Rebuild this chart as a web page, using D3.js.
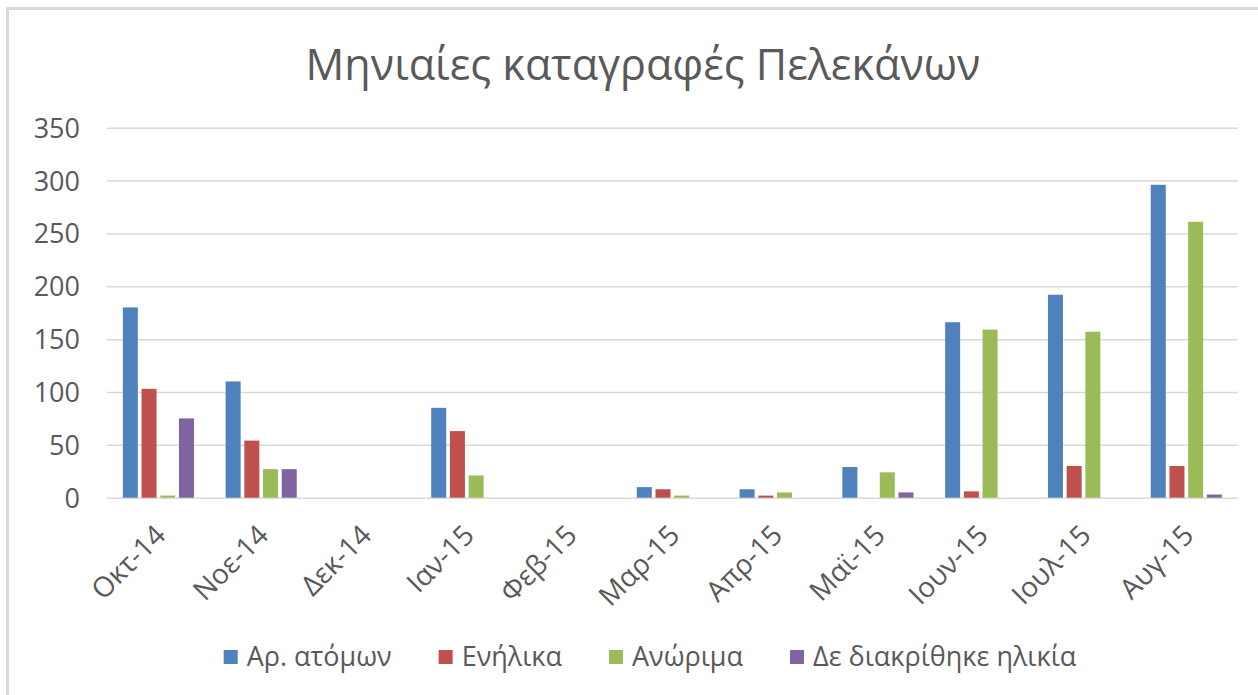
<!DOCTYPE html>
<html><head><meta charset="utf-8">
<script src="https://cdn.jsdelivr.net/npm/d3@7"></script>
<style>
body{margin:0;background:#fff;}
svg{display:block;}
text{font-family:"Open Sans","Noto Sans",sans-serif;fill:#595959;}
</style></head>
<body>
<svg id="c" width="1258" height="695"></svg>
<script>
const months = ["Οκτ-14","Νοε-14","Δεκ-14","Ιαν-15","Φεβ-15","Μαρ-15","Απρ-15","Μαϊ-15","Ιουν-15","Ιουλ-15","Αυγ-15"];
const seriesNames = ["Αρ. ατόμων","Ενήλικα","Ανώριμα","Δε διακρίθηκε ηλικία"];
const seriesColors = ["#4f81bd","#c0504d","#9bbb59","#8064a2"];
const totalCount = [180,110,0,85,0,10,8,29,166,192,296];
const adults     = [103,54,0,63,0,8,2,0,6,30,30];
const juveniles  = [2,27,0,21,0,2,5,24,159,157,261];
const unknownAge = [75,27,0,0,0,0,0,5,0,0,3];
const yTicks = [0,50,100,150,200,250,300,350];
const titleText = "Μηνιαίες καταγραφές Πελεκάνων";

(function(){
const values = [totalCount, adults, juveniles, unknownAge];
const svg = d3.select("#c");

svg.append("line").attr("x1",7).attr("x2",1258).attr("y1",8.5).attr("y2",8.5).attr("stroke","#d9d9d9").attr("stroke-width",3);
svg.append("line").attr("x1",7.5).attr("x2",7.5).attr("y1",7).attr("y2",695).attr("stroke","#d9d9d9").attr("stroke-width",3);

const pLeft=107, pRight=1237.7, pTop=127.7, pBottom=497.7;
const x0 = d3.scaleBand().domain(months).range([pLeft,pRight]).paddingInner(0.272).paddingOuter(0.136);
const x1 = d3.scaleBand().domain(d3.range(seriesNames.length)).range([0,x0.bandwidth()]);
const y = d3.scaleLinear().domain([0,350]).range([pBottom,pTop]);

const yAxis = d3.axisLeft(y).tickValues(yTicks).tickSize(-(pRight-pLeft)).tickPadding(27).tickFormat(d3.format("d"));
const ga = svg.append("g").attr("transform",`translate(${pLeft},0)`).call(yAxis);
ga.select(".domain").remove();
ga.selectAll(".tick line").attr("stroke","#d9d9d9").attr("stroke-width",1.5);
ga.selectAll(".tick text").style("font-size","27px").attr("fill","#595959").attr("dy","0.35em");

const gap = 3.7;
months.forEach((m,i)=>{
  values.forEach((arr,s)=>{
    const v = arr[i];
    if(v<=0) return;
    svg.append("rect")
      .attr("x", x0(m)+x1(s)+gap/2)
      .attr("width", x1.bandwidth()-gap)
      .attr("y", y(v))
      .attr("height", y(0)-y(v))
      .attr("fill", seriesColors[s]);
  });
});

svg.append("g").selectAll("text").data(months).join("text")
  .attr("transform", d=>`translate(${x0(d)+x0.bandwidth()/2+9},${537}) rotate(-45)`)
  .attr("text-anchor","end")
  .style("font-size","28px")
  .text(d=>d);

const t = svg.append("text").attr("x",643).attr("y",80).attr("text-anchor","middle").style("font-size","36px").text(titleText);
const tl = t.node().getComputedTextLength();
t.style("font-size",(36*675/tl)+"px");

const lg = svg.append("g");
const items = lg.selectAll("g").data(seriesNames).join("g");
items.append("rect").attr("width",14).attr("height",14).attr("y",-7).attr("fill",(d,i)=>seriesColors[i]);
const lt = items.append("text").attr("x",23).attr("dy","0.35em").style("font-size","26px").text(d=>d);
const w0 = lt.nodes()[0].getComputedTextLength();
lt.style("font-size",(26*145/w0)+"px");
let xpos=0;
items.each(function(d,i){
  const w = 23 + d3.select(this).select("text").node().getComputedTextLength();
  d3.select(this).attr("transform",`translate(${xpos},0)`);
  xpos += w + 47;
});
const totalW = xpos-47;
lg.attr("transform",`translate(${650-totalW/2},657)`);
})();
</script>
</body></html>
